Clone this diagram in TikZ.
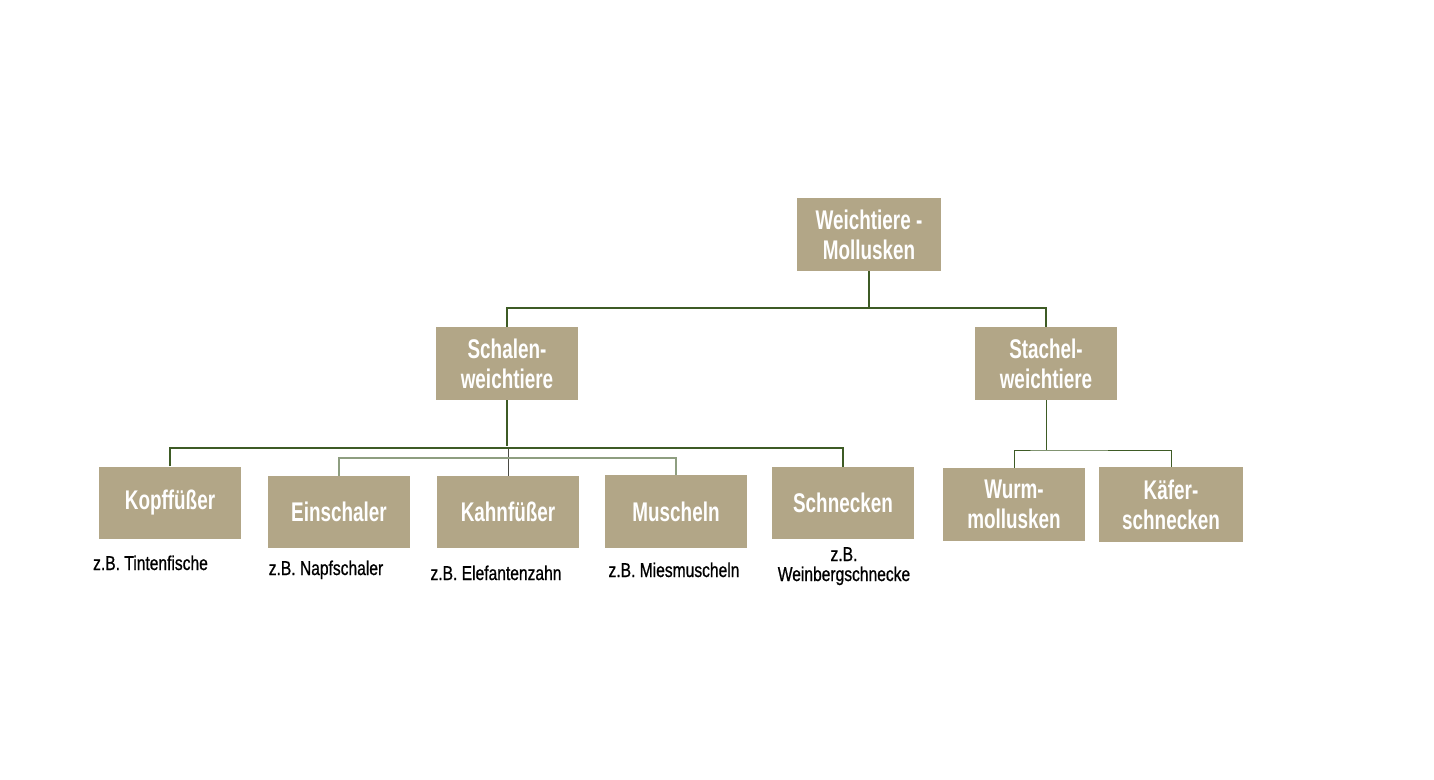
\documentclass[tikz,border=0pt]{standalone}
\usepackage{fontspec}
\newfontfamily\boxfont[FakeStretch=0.70]{Liberation Sans}
\newfontfamily\labfont[FakeStretch=0.78,FakeBold=0.8]{Liberation Sans}
\definecolor{boxfill}{HTML}{B2A687}
\definecolor{darkline}{HTML}{3E5B25}
\definecolor{lightline}{HTML}{8E9E80}
\definecolor{greyline}{HTML}{4A4A44}
\begin{document}
\begin{tikzpicture}[x=1pt,y=-1pt,
  catbox/.style={fill=boxfill, draw=none, inner sep=0pt, align=center,
    text=white, font=\boxfont\bfseries\fontsize{27}{30}\selectfont},
  exlabel/.style={inner sep=0pt, align=center, text=black,
    font=\labfont\fontsize{20}{20}\selectfont},
  thickline/.style={draw=darkline, line width=2pt},
  thinline/.style={draw=darkline, line width=1pt},
  lightthin/.style={draw=lightline, line width=1.1pt},
  greythin/.style={draw=greyline, line width=1pt}
]
\useasboundingbox (0,0) rectangle (1434,779);
\fill[white] (0,0) rectangle (1434,779);

\node[catbox, minimum width=144pt, minimum height=73pt] (W) at (869,234.5) {Weichtiere -\\Mollusken};
\node[catbox, minimum width=142pt, minimum height=73pt] (Sc) at (507,363.5) {Schalen-\\weichtiere};
\node[catbox, minimum width=142pt, minimum height=73pt] (St) at (1046,363.5) {Stachel-\\weichtiere};

\node[catbox, minimum width=142pt, minimum height=72pt] (K) at (170,502.5) {Kopffüßer};
\node[catbox, minimum width=142pt, minimum height=72pt] (E) at (339,512) {Einschaler};
\node[catbox, minimum width=142pt, minimum height=72pt] (Ka) at (508,512) {Kahnfüßer};
\node[catbox, minimum width=142pt, minimum height=73pt] (M) at (676,511.5) {Muscheln};
\node[catbox, minimum width=142pt, minimum height=72pt] (S) at (843,503) {Schnecken};
\node[catbox, minimum width=142pt, minimum height=73pt] (Wu) at (1014,504.5) {Wurm-\\mollusken};
\node[catbox, minimum width=144pt, minimum height=75pt] (Kf) at (1171,504.5) {Käfer-\\schnecken};

\node[exlabel, anchor=base] (lK) at (150.5,570) {z.B. Tintenfische};
\node[exlabel, anchor=base] (lE) at (326,575) {z.B. Napfschaler};
\node[exlabel, anchor=base] (lKa) at (496,580) {z.B. Elefantenzahn};
\node[exlabel, anchor=base] (lM) at (674,577) {z.B. Miesmuscheln};
\node[exlabel, anchor=base] (lS) at (844,581) {z.B.\\Weinbergschnecke};

\coordinate (j1) at (869,308);
\coordinate (j2) at (507,448);
\coordinate (j3) at (507,458);
\coordinate (j4) at (1046,450);

\draw[thickline] (W.south) -- (W.south |- j1) -| (Sc.north);
\draw[thickline] (W.south |- j1) -| (St.north);

\draw[greythin] (Ka.north) -- (Ka.north |- j2);
\draw[lightthin] (E.north) |- (j3) -| (M.north);
\draw[thickline] (Sc.south) -- ([yshift=2pt]j2);
\draw[thickline] (K.north) |- (j2) -| (S.north);

\draw[thinline] (St.south) -- (j4);
\draw[thinline] (Wu.north) |- (j4) -| (Kf.north);
\end{tikzpicture}
\end{document}
